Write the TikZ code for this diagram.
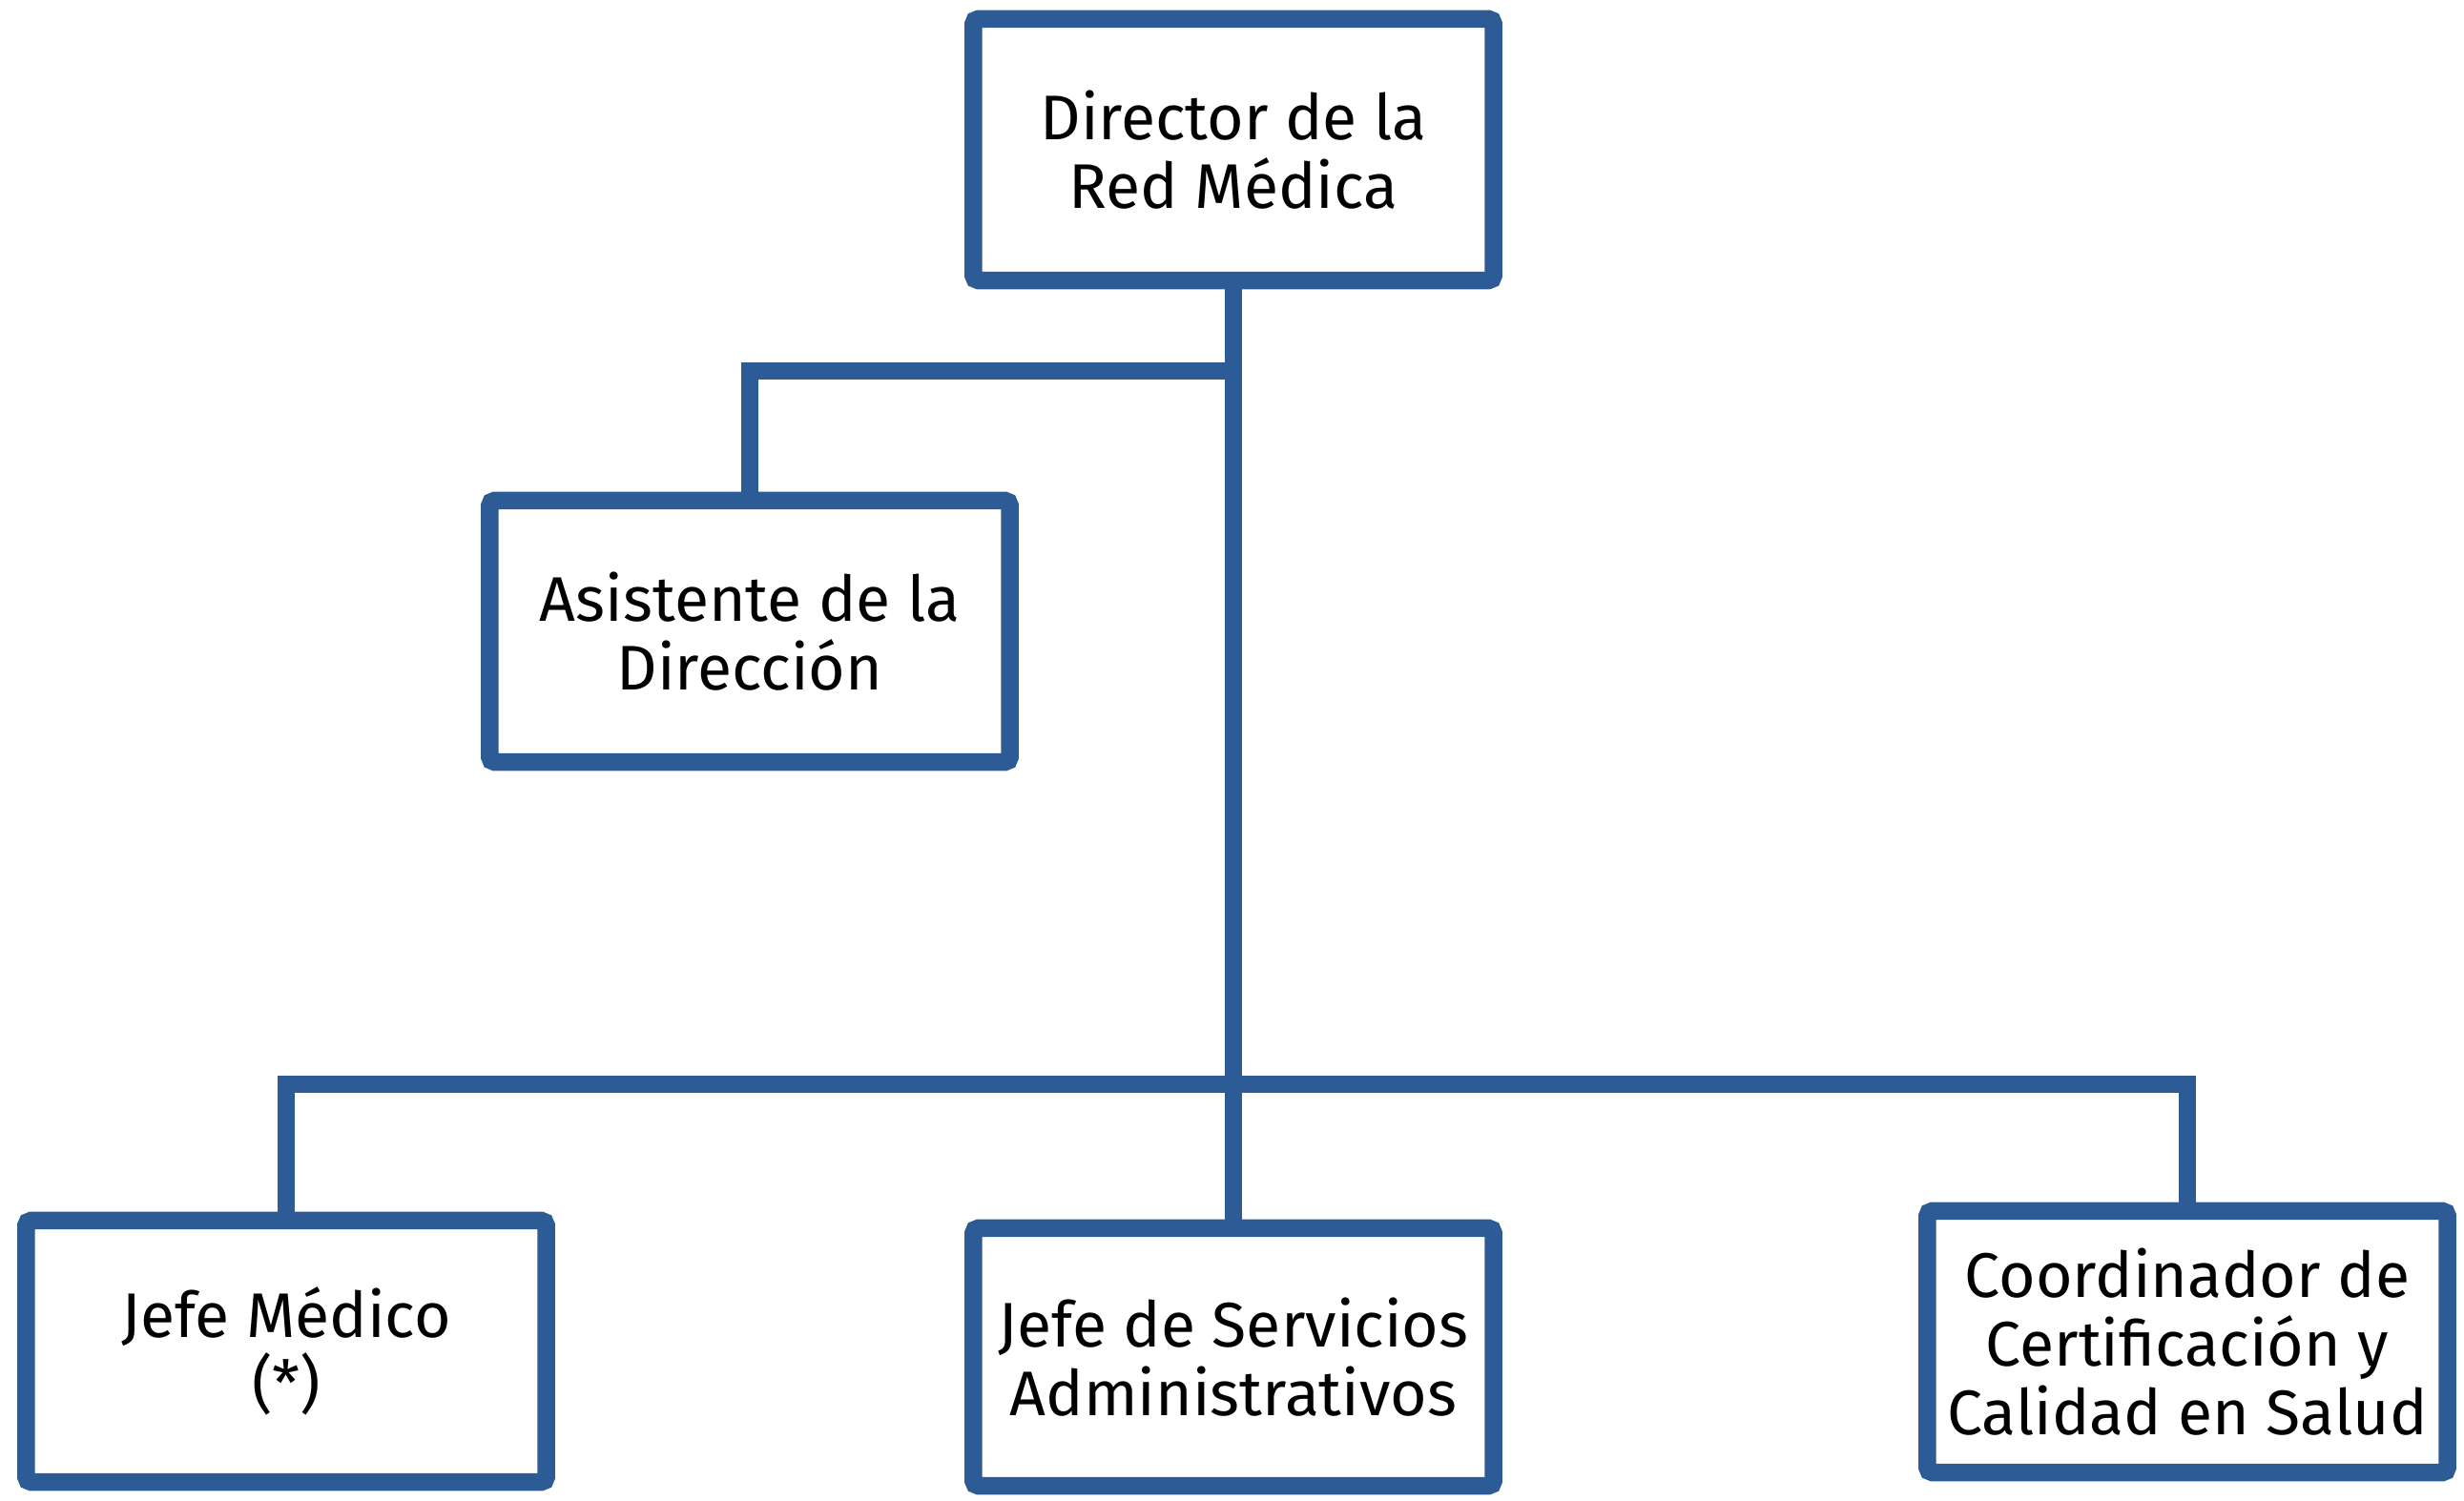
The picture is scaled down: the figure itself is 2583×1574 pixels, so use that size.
\documentclass[tikz,border=0pt]{standalone}
\usepackage{fontspec}
\setmainfont{Fira Sans}
\definecolor{orgblue}{RGB}{45,91,150}
\begin{document}
\begin{tikzpicture}[x=0.01cm,y=-0.01cm,
  box/.style={draw=orgblue,line width=0.185cm,rounded corners=1.5pt,fill=white,
    minimum width=5.45cm,minimum height=2.74cm,align=center,inner sep=0pt,
    font=\fontsize{18.8}{20.5}\selectfont},
  conn/.style={draw=orgblue,line width=0.185cm}]
\useasboundingbox (0,0) rectangle (2583,1574);
\node[box] (dir) at (1293,157) {Director de la\\Red Médica};
\node[box] (asis) at (786,662) {Asistente de la\\Dirección};
\node[box] (med) at (300,1417) {Jefe Médico\\(*)};
\node[box,minimum height=2.70cm] (serv) at (1293,1423) {Jefe de Servicios\\Administrativos};
\node[box] (coord) at (2293,1407) {Coordinador de\\Certificación y\\Calidad en Salud};
\coordinate (j1) at (1293,389);
\coordinate (hb) at (1293,1137);
\draw[conn] (dir.south) -- (serv.north);
\draw[conn] (j1) -| (asis.north);
\draw[conn] (med.north) |- (hb) -| (coord.north);
\end{tikzpicture}
\end{document}
